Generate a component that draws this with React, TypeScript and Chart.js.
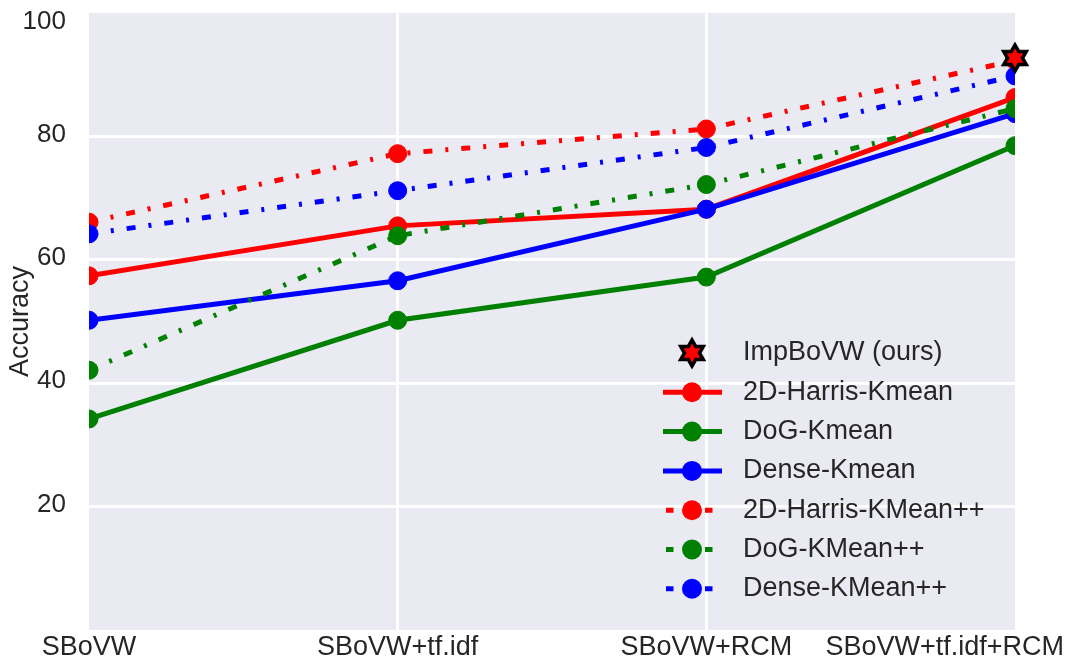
import React, { useEffect, useRef } from "react";
import { Chart, registerables } from "chart.js";

Chart.register(...registerables);

// ---------- data ----------
const categories = ["SBoVW", "SBoVW+tf.idf", "SBoVW+RCM", "SBoVW+tf.idf+RCM"];
const harrisKmean = [57.4, 65.5, 68.2, 86.3];
const dogKmean = [34.2, 50.2, 57.2, 78.5];
const denseKmean = [50.2, 56.6, 68.2, 83.7];
const harrisKmeanPP = [66.1, 77.2, 81.2, 92.3];
const dogKmeanPP = [42.1, 63.9, 72.2, 84.5];
const denseKmeanPP = [64.2, 71.2, 78.2, 89.8];
const impBoVW = [null, null, null, 92.7];
const yTickValues = [20, 40, 60, 80, 100];

const seriesLabels = [
  "ImpBoVW (ours)",
  "2D-Harris-Kmean",
  "DoG-Kmean",
  "Dense-Kmean",
  "2D-Harris-KMean++",
  "DoG-KMean++",
  "Dense-KMean++",
];

// ---------- styles ----------
const FONT = "'Liberation Sans', Arial, Helvetica, sans-serif";
const TEXT = "#262626";
const BG = "#EAEAF2";
const RED = "#FF0000";
const GREEN = "#008000";
const BLUE = "#0000FF";
const DASHDOT = [9, 13, 3, 13];

function hexagram(ctx: CanvasRenderingContext2D, cx: number, cy: number, R: number, color: string) {
  const r = R / Math.sqrt(3);
  ctx.beginPath();
  for (let i = 0; i < 12; i++) {
    const a = -Math.PI / 2 + (i * Math.PI) / 6;
    const rad = i % 2 === 0 ? R : r;
    const x = cx + rad * Math.cos(a);
    const y = cy + rad * Math.sin(a);
    if (i === 0) ctx.moveTo(x, y);
    else ctx.lineTo(x, y);
  }
  ctx.closePath();
  ctx.fillStyle = color;
  ctx.fill();
}

function makeStar(): HTMLCanvasElement {
  const c = document.createElement("canvas");
  c.width = 40;
  c.height = 40;
  const ctx = c.getContext("2d")!;
  hexagram(ctx, 20, 20, 16.5, "#000000");
  hexagram(ctx, 20, 20, 9.5, RED);
  return c;
}

export default function App() {
  const ref = useRef<HTMLCanvasElement | null>(null);

  useEffect(() => {
    const canvas = ref.current;
    if (!canvas) return;
    const star = makeStar();

    const bgPlugin = {
      id: "bgPlugin",
      beforeDraw(chart: any) {
        const { ctx, chartArea } = chart;
        ctx.save();
        ctx.fillStyle = BG;
        ctx.fillRect(chartArea.left, chartArea.top, chartArea.right - chartArea.left, chartArea.bottom - chartArea.top);
        ctx.restore();
        // label placement tweaks
        const xs = chart.scales.x;
        const xItems = xs.getLabelItems();
        const last = xItems[xItems.length - 1];
        if (last && !last._tw) {
          last._tw = true;
          last.options.textAlign = "right";
          last.options.translation = [chart.width - 7, last.options.translation[1]];
        }
        const ys = chart.scales.y;
        ys.getLabelItems().forEach((it: any) => {
          if (it._tw) return;
          it._tw = true;
          const t = it.options.translation;
          if (it.label === "100") it.options.translation = [t[0], t[1] + 9];
          else it.options.translation = [t[0], t[1] - 2];
        });
      },
      beforeDatasetDraw(chart: any, args: any) {
        const { ctx, chartArea } = chart;
        ctx.save();
        if (args.index !== 0) {
          ctx.beginPath();
          ctx.rect(chartArea.left, chartArea.top, chartArea.right - chartArea.left, chartArea.bottom - chartArea.top);
          ctx.clip();
        }
      },
      afterDatasetDraw(chart: any) {
        chart.ctx.restore();
      },
    };

    const legendRows = [
      { label: seriesLabels[0], color: RED, kind: "star" },
      { label: seriesLabels[1], color: RED, kind: "solid" },
      { label: seriesLabels[2], color: GREEN, kind: "solid" },
      { label: seriesLabels[3], color: BLUE, kind: "solid" },
      { label: seriesLabels[4], color: RED, kind: "dashdot" },
      { label: seriesLabels[5], color: GREEN, kind: "dashdot" },
      { label: seriesLabels[6], color: BLUE, kind: "dashdot" },
    ];

    const legendPlugin = {
      id: "customLegend",
      afterDraw(chart: any) {
        const ctx = chart.ctx;
        const x0 = 663;
        const x1 = 722;
        const cx = 692;
        const tx = 743;
        const top = 353;
        const step = 39.3;
        ctx.save();
        legendRows.forEach((row, i) => {
          const y = top + i * step;
          if (row.kind === "star") {
            ctx.drawImage(star, cx - star.width / 2, y - star.height / 2);
          } else {
            ctx.strokeStyle = row.color;
            ctx.lineWidth = 5;
            ctx.lineCap = "butt";
            ctx.beginPath();
            if (row.kind === "solid") {
              ctx.moveTo(x0, y);
              ctx.lineTo(x1, y);
            } else {
              ctx.moveTo(666, y);
              ctx.lineTo(673.5, y);
              ctx.moveTo(705, y);
              ctx.lineTo(712.5, y);
            }
            ctx.stroke();
            ctx.fillStyle = row.color;
            ctx.beginPath();
            ctx.arc(cx, y, 10, 0, Math.PI * 2);
            ctx.fill();
          }
          ctx.fillStyle = TEXT;
          ctx.font = `27px ${FONT}`;
          ctx.textAlign = "left";
          ctx.textBaseline = "middle";
          ctx.fillText(row.label, tx, y);
        });
        ctx.restore();
      },
    };

    const lineDs = (label: string, data: number[], color: string, dashed: boolean, order: number) => ({
      label,
      data,
      borderColor: color,
      backgroundColor: color,
      borderWidth: 5,
      borderDash: dashed ? DASHDOT : [],
      borderCapStyle: "butt",
      pointRadius: 9,
      pointBorderWidth: 1,
      pointBorderColor: color,
      pointBackgroundColor: color,
      tension: 0,
      order,
    });

    const chart = new Chart(canvas, {
      type: "line",
      data: {
        labels: categories,
        datasets: [
          {
            label: seriesLabels[0],
            data: impBoVW,
            showLine: false,
            pointStyle: star,
            pointRadius: 12,
            borderColor: RED,
            backgroundColor: RED,
            clip: false,
            order: 0,
          } as any,
          lineDs(seriesLabels[6], denseKmeanPP, BLUE, true, 1),
          lineDs(seriesLabels[5], dogKmeanPP, GREEN, true, 2),
          lineDs(seriesLabels[4], harrisKmeanPP, RED, true, 3),
          lineDs(seriesLabels[3], denseKmean, BLUE, false, 4),
          lineDs(seriesLabels[2], dogKmean, GREEN, false, 5),
          lineDs(seriesLabels[1], harrisKmean, RED, false, 6),
        ],
      },
      options: {
        responsive: false,
        animation: false,
        events: [],
        layout: { padding: { top: 12, right: 56, left: 0, bottom: 0 } },
        plugins: {
          legend: { display: false },
          tooltip: { enabled: false },
        },
        scales: {
          x: {
            type: "category",
            offset: false,
            border: { display: false },
            grid: {
              color: (c: any) => (c.index === 0 || c.index === categories.length - 1 ? "rgba(0,0,0,0)" : "#FFFFFF"),
              lineWidth: 3,
              drawTicks: false,
            },
            ticks: {
              color: TEXT,
              font: { family: FONT, size: 27 },
              padding: 1,
              maxRotation: 0,
              autoSkip: false,
            },
            afterFit(scale: any) {
              scale.height = 37;
              scale.paddingLeft = 0;
              scale.paddingRight = 0;
            },
          },
          y: {
            min: 0,
            max: 100,
            border: { display: false },
            afterBuildTicks(scale: any) {
              scale.ticks = [0, ...yTickValues].map((v) => ({ value: v }));
            },
            grid: {
              color: (c: any) => (c.tick && (c.tick.value === 0 || c.tick.value === 100) ? "rgba(0,0,0,0)" : "#FFFFFF"),
              lineWidth: 3,
              drawTicks: false,
            },
            ticks: {
              color: TEXT,
              font: { family: FONT, size: 26 },
              padding: 23,
              callback: (v: any) => (yTickValues.includes(Number(v)) ? String(v) : ""),
            },
            title: {
              display: true,
              text: "Accuracy",
              color: TEXT,
              font: { family: FONT, size: 27 },
              padding: { top: 4, bottom: 0 },
            },
            afterFit(scale: any) {
              scale.width = 89;
              scale.paddingTop = 0;
              scale.paddingBottom = 0;
            },
          },
        },
      },
      plugins: [bgPlugin, legendPlugin],
    } as any);

    return () => chart.destroy();
  }, []);

  return (
    <div style={{ position: "absolute", left: 0, top: 0, width: 1071, height: 667, background: "#FFFFFF" }}>
      <canvas ref={ref} width={1071} height={667} style={{ width: 1071, height: 667, display: "block" }} />
    </div>
  );
}
